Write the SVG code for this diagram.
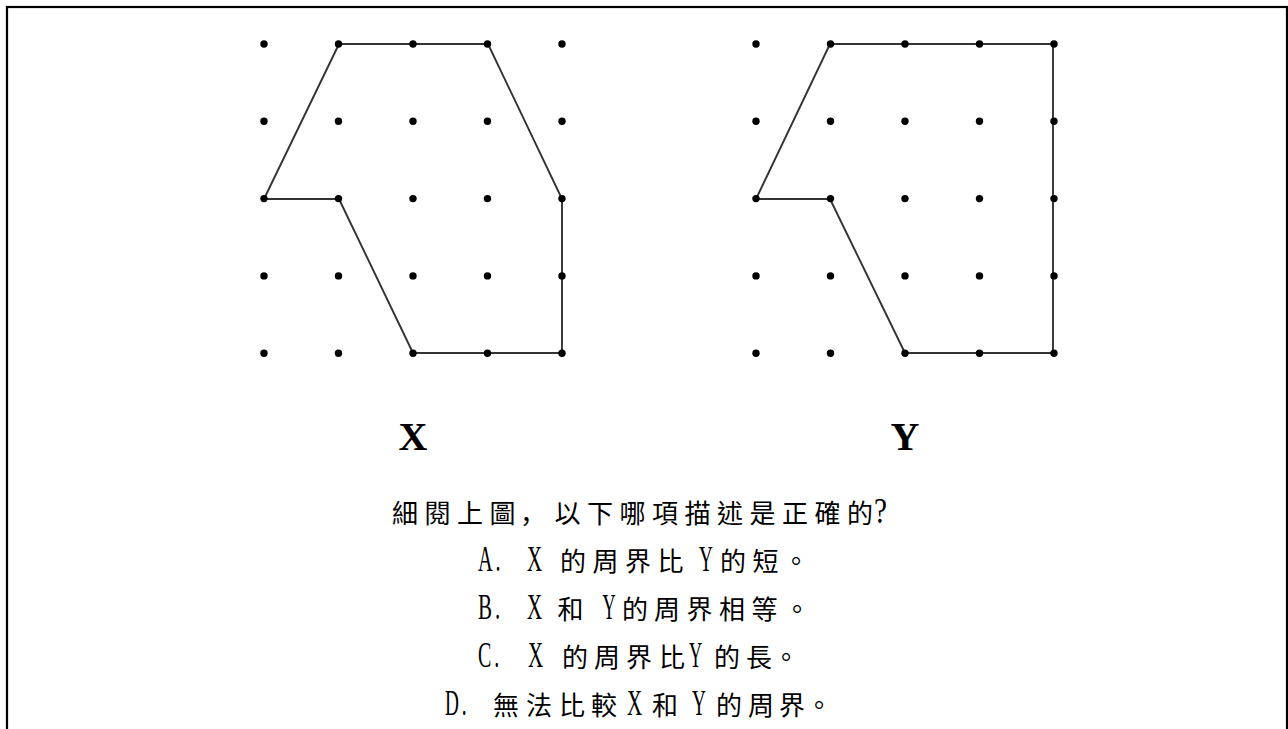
<svg xmlns="http://www.w3.org/2000/svg" width="1288" height="729" viewBox="0 0 1288 729">
<style>
.dot{fill:#000}
.edge{fill:none;stroke:#333;stroke-width:1.9;stroke-linejoin:round}
.lbl{font-family:"Liberation Serif",serif;font-weight:bold;font-size:40px;fill:#000;text-anchor:middle}
.q{font-family:"Noto Sans CJK TC","Noto Sans CJK SC",sans-serif;font-size:26px;fill:#000}
.lat{font-family:"Liberation Serif",serif;font-size:35px;fill:#000}
.sc{font-family:"Noto Sans CJK SC",sans-serif}
</style>
<defs>
<g id="grid">
<circle class="dot" cx="0" cy="0" r="3.7"/><circle class="dot" cx="74.5" cy="0" r="3.7"/><circle class="dot" cx="149" cy="0" r="3.7"/><circle class="dot" cx="223.5" cy="0" r="3.7"/><circle class="dot" cx="298" cy="0" r="3.7"/>
<circle class="dot" cx="0" cy="77.3" r="3.7"/><circle class="dot" cx="74.5" cy="77.3" r="3.7"/><circle class="dot" cx="149" cy="77.3" r="3.7"/><circle class="dot" cx="223.5" cy="77.3" r="3.7"/><circle class="dot" cx="298" cy="77.3" r="3.7"/>
<circle class="dot" cx="0" cy="154.6" r="3.7"/><circle class="dot" cx="74.5" cy="154.6" r="3.7"/><circle class="dot" cx="149" cy="154.6" r="3.7"/><circle class="dot" cx="223.5" cy="154.6" r="3.7"/><circle class="dot" cx="298" cy="154.6" r="3.7"/>
<circle class="dot" cx="0" cy="231.9" r="3.7"/><circle class="dot" cx="74.5" cy="231.9" r="3.7"/><circle class="dot" cx="149" cy="231.9" r="3.7"/><circle class="dot" cx="223.5" cy="231.9" r="3.7"/><circle class="dot" cx="298" cy="231.9" r="3.7"/>
<circle class="dot" cx="0" cy="309.2" r="3.7"/><circle class="dot" cx="74.5" cy="309.2" r="3.7"/><circle class="dot" cx="149" cy="309.2" r="3.7"/><circle class="dot" cx="223.5" cy="309.2" r="3.7"/><circle class="dot" cx="298" cy="309.2" r="3.7"/>
</g>
</defs>
<rect id="frame" x="7" y="7" width="1280" height="760" fill="none" stroke="#000" stroke-width="2.2"/>
<g id="shape-x">
<polygon class="edge" points="339,44 488,44 562,199 562,353 413,353 339,199 264,199"/>
<use href="#grid" x="264" y="44"/>
</g>
<g id="shape-y">
<polygon class="edge" points="830,44 1053,44 1053,353 905,353 830,199 756,199"/>
<use href="#grid" x="756" y="44"/>
</g>
<text id="label-x" class="lbl" x="413" y="450">X</text>
<text id="label-y" class="lbl" x="905" y="450">Y</text>
<g id="question">
<text class="q" y="523"><tspan x="392 424.5 457 489.5">細閱上圖</tspan><tspan class="sc" x="520">，</tspan><tspan x="554.5 587 619.5 652 684.5 717 749.5 782 814.5 847">以下哪項描述是正確的</tspan><tspan class="lat" x="874" textLength="13" lengthAdjust="spacingAndGlyphs">?</tspan></text>
</g>
<g id="option-a">
<text class="lat" transform="translate(478,571) scale(0.58,1)">A<tspan dx="5">.</tspan></text>
<text class="lat" transform="translate(527,571) scale(0.6,1)">X</text>
<text class="q" y="571" x="560 592.5 625 657.5">的周界比</text>
<text class="lat" transform="translate(699,571) scale(0.55,1)">Y</text>
<text class="q" y="571" x="720 752.5 783">的短。</text>
</g>
<g id="option-b">
<text class="lat" transform="translate(478,619) scale(0.6,1)">B<tspan dx="5">.</tspan></text>
<text class="lat" transform="translate(527,619) scale(0.6,1)">X</text>
<text class="q" y="619" x="557.5">和</text>
<text class="lat" transform="translate(602.5,619) scale(0.52,1)">Y</text>
<text class="q" y="619" x="622 654 686.5 719 751.5 784">的周界相等。</text>
</g>
<g id="option-c">
<text class="lat" transform="translate(478,667) scale(0.57,1)">C<tspan dx="5">.</tspan></text>
<text class="lat" transform="translate(528,667) scale(0.6,1)">X</text>
<text class="q" y="667" x="562 594 626 659">的周界比</text>
<text class="lat" transform="translate(689,667) scale(0.52,1)">Y</text>
<text class="q" y="667" x="714 746 773">的長。</text>
</g>
<g id="option-d">
<text class="lat" transform="translate(445,715) scale(0.55,1)">D<tspan dx="5">.</tspan></text>
<text class="q" y="715" x="493 526 559 591">無法比較</text>
<text class="lat" transform="translate(627,715) scale(0.6,1)">X</text>
<text class="q" y="715" x="652">和</text>
<text class="lat" transform="translate(692,715) scale(0.55,1)">Y</text>
<text class="q" y="715" x="716 748 779 806">的周界。</text>
</g>
</svg>
